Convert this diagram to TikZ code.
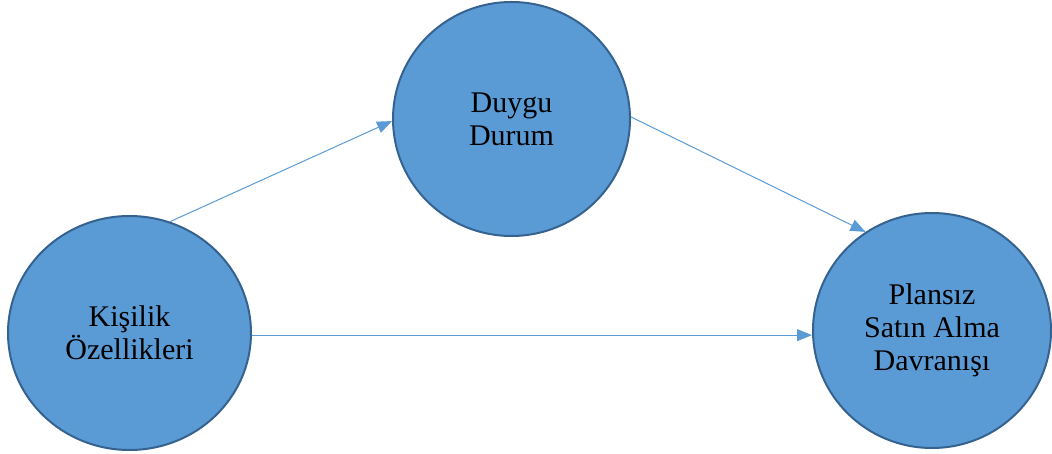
\documentclass[tikz,border=0pt]{standalone}
\usepackage{fontspec}
\setmainfont{Liberation Serif}
\usetikzlibrary{arrows.meta,shapes.geometric}
\definecolor{bubblefill}{HTML}{5B9BD5}
\definecolor{bubbleedge}{HTML}{35628F}
\definecolor{linkblue}{HTML}{5B9BD5}
\begin{document}
\begin{tikzpicture}[x=1pt,y=-1pt,
  bubble/.style={ellipse,draw=bubbleedge,fill=bubblefill,line width=2pt,
    inner sep=0pt,align=center,font=\fontsize{30}{33}\selectfont,text=black},
  link/.style={draw=linkblue,line width=1pt,-{Triangle[length=15pt,width=12pt]}}]
  \useasboundingbox (0,0) rectangle (1052,454);
  \node[bubble,minimum width=243pt,minimum height=234pt] (kisilik) at (129.5,333) {Kişilik\\Özellikleri};
  \node[bubble,minimum width=237pt,minimum height=234pt] (duygu) at (511.5,119) {Duygu\\Durum};
  \node[bubble,minimum width=238pt,minimum height=235pt] (plansiz) at (932,330.5) {Plansız\\Satın Alma\\Davranışı};
  \draw[link] (kisilik.70) -- (duygu.181);
  \draw[link] (duygu.1) -- (plansiz.124);
  \draw[link] (kisilik.-1.5) -- (kisilik.-1.5 -| plansiz.west);
\end{tikzpicture}
\end{document}
